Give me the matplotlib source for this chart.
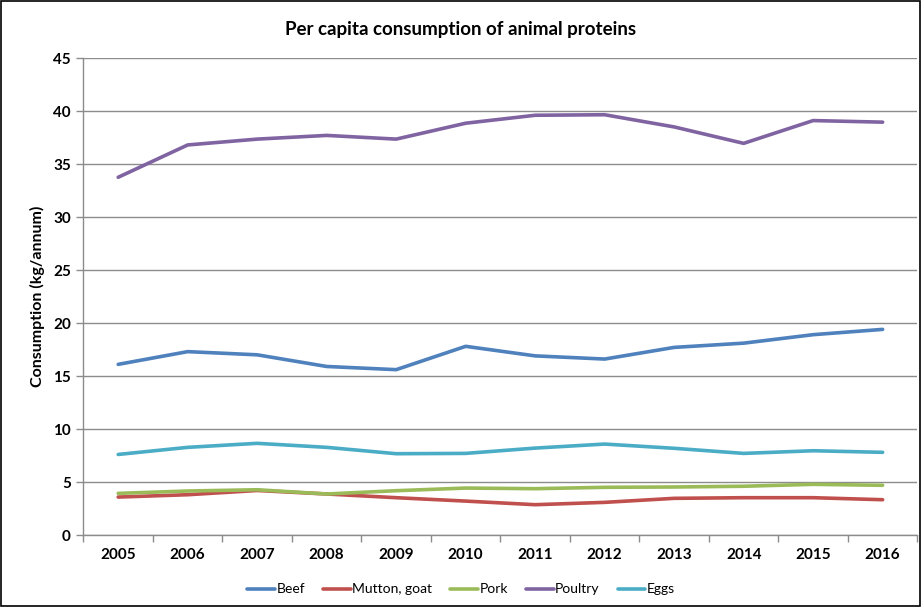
import matplotlib
matplotlib.use("Agg")
import matplotlib.pyplot as plt
from matplotlib.patches import Rectangle

years = ["2005", "2006", "2007", "2008", "2009", "2010",
         "2011", "2012", "2013", "2014", "2015", "2016"]
beef = [16.1, 17.3, 17.0, 15.9, 15.6, 17.8, 16.9, 16.6, 17.7, 18.1, 18.9, 19.4]
mutton_goat = [3.58, 3.8, 4.2, 3.87, 3.52, 3.2, 2.86, 3.08, 3.46, 3.52, 3.52, 3.33]
pork = [3.93, 4.15, 4.27, 3.87, 4.18, 4.43, 4.37, 4.5, 4.53, 4.6, 4.78, 4.69]
poultry = [33.75, 36.8, 37.35, 37.7, 37.35, 38.85, 39.6, 39.65, 38.5, 36.95, 39.1, 38.95]
eggs = [7.6, 8.27, 8.65, 8.27, 7.67, 7.7, 8.2, 8.58, 8.18, 7.7, 7.95, 7.8]

series = [
    ("Beef", beef, "#4F81BD"),
    ("Mutton, goat", mutton_goat, "#C0504D"),
    ("Pork", pork, "#9BBB59"),
    ("Poultry", poultry, "#8064A2"),
    ("Eggs", eggs, "#4BACC6"),
]

plt.rcParams["font.family"] = ["Lato", "DejaVu Sans"]

fig = plt.figure(figsize=(9.22, 6.07), dpi=100)
ax = fig.add_axes([0.0905, 0.1186, 0.9045, 0.7858])

x = list(range(len(years)))
for name, vals, color in series:
    ax.plot(x, vals, color=color, lw=2.6, label=name, solid_capstyle="round")

ax.set_xlim(-0.5, len(years) - 0.5)
ax.set_ylim(0, 45)
ax.set_yticks(range(0, 46, 5))
ax.yaxis.grid(True, color="#8c8c8c", lw=1.0)
ax.set_axisbelow(True)

# category labels centred, tick marks on the category boundaries
ax.set_xticks(x)
ax.set_xticklabels(years, fontsize=11, fontweight="bold")
ax.set_xticks([i - 0.5 for i in range(len(years) + 1)], minor=True)
ax.tick_params(axis="x", which="major", length=0, pad=9)
ax.tick_params(axis="x", which="minor", length=5, color="#8c8c8c", width=1)
ax.tick_params(axis="y", length=5, color="#8c8c8c", width=1, labelsize=11, pad=4)
for lbl in ax.get_yticklabels():
    lbl.set_fontweight("bold")

for side in ("top", "right"):
    ax.spines[side].set_visible(False)
for side in ("left", "bottom"):
    ax.spines[side].set_color("#8c8c8c")
    ax.spines[side].set_linewidth(1.0)

ax.set_ylabel("Consumption (kg/annum)", fontsize=11.5, fontweight="bold", labelpad=6)

fig.text(0.5, 0.951, "Per capita consumption of animal proteins",
         ha="center", va="center", fontsize=13.5, fontweight="bold")

fig.legend(loc="center", bbox_to_anchor=(0.5, 0.029), ncol=5, frameon=False,
           fontsize=10, handlelength=2.0, handletextpad=0.1, columnspacing=1.3)

fig.patches.append(Rectangle((0.0015, 0.002), 0.996, 0.996, transform=fig.transFigure,
                             fill=False, edgecolor="black", lw=1.2))

fig.savefig("out.png", dpi=100)
